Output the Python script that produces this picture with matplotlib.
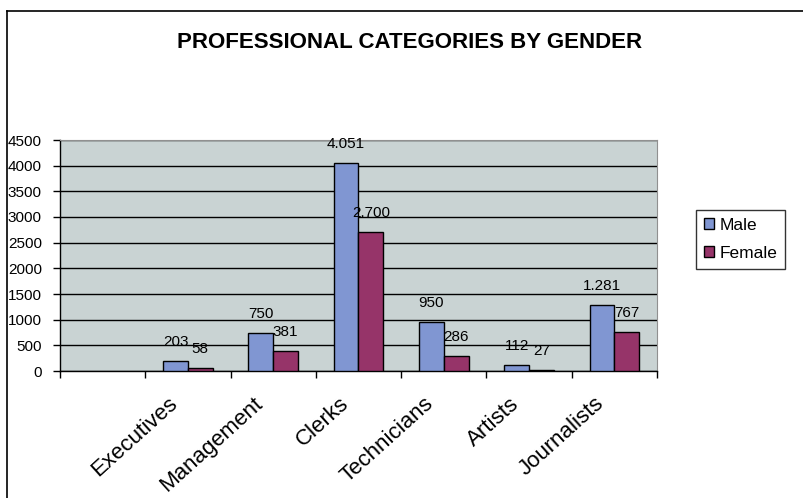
import numpy as np
import matplotlib
matplotlib.use('agg')
import matplotlib.pyplot as plt
import matplotlib.transforms as mtransforms
from matplotlib.lines import Line2D

plt.rcParams['font.family'] = ['Liberation Sans', 'DejaVu Sans']

categories = ['', 'Executives', 'Management', 'Clerks', 'Technicians', 'Artists', 'Journalists']
male = [np.nan, 203, 750, 4051, 950, 112, 1281]
female = [np.nan, 58, 381, 2700, 286, 27, 767]
male_labels = ['', '203', '750', '4.051', '950', '112', '1.281']
female_labels = ['', '58', '381', '2.700', '286', '27', '767']
yticks = [0, 500, 1000, 1500, 2000, 2500, 3000, 3500, 4000, 4500]

male_color = '#8096D2'
female_color = '#963469'

fig = plt.figure(figsize=(8.04, 4.98), dpi=100)
ax = fig.add_axes([60 / 804, 127 / 498, 597 / 804, 231 / 498])
ax.set_facecolor('#C9D3D3')

x = np.arange(len(categories))
w = 0.29
b1 = ax.bar(x - w / 2, male, w, color=male_color, edgecolor='black', linewidth=1, label='Male', zorder=3)
b2 = ax.bar(x + w / 2, female, w, color=female_color, edgecolor='black', linewidth=1, label='Female', zorder=3)

for xi, v, s in zip(x, male, male_labels):
    if s:
        ax.annotate(s, (xi - w / 2, v), xytext=(0, 12), textcoords='offset pixels',
                    ha='center', va='bottom', fontsize=11, zorder=4)
for xi, v, s in zip(x, female, female_labels):
    if s:
        ax.annotate(s, (xi + w / 2, v), xytext=(0, 12), textcoords='offset pixels',
                    ha='center', va='bottom', fontsize=11, zorder=4)

ax.set_xlim(-0.5, len(categories) - 0.5)
ax.set_ylim(0, 4500)
ax.set_yticks(yticks)
ax.set_yticklabels([str(t) for t in yticks], fontsize=11)
ax.yaxis.grid(True, color='black', linewidth=1, zorder=1)

ax.set_xticks(x)
ax.set_xticklabels(categories, fontsize=16, rotation=42, ha='right', rotation_mode='anchor')
ax.tick_params(axis='x', which='major', length=0, pad=16)
shift = mtransforms.ScaledTranslation(-20 / 100, 0, fig.dpi_scale_trans)
for lbl in ax.get_xticklabels():
    lbl.set_transform(lbl.get_transform() + shift)
ax.set_xticks(np.arange(len(categories) + 1) - 0.5, minor=True)
ax.tick_params(axis='x', which='minor', length=5, width=1, direction='out')
ax.tick_params(axis='y', length=5, width=1, direction='out', pad=8)

for side in ['top', 'right']:
    ax.spines[side].set_color('#909090')
for side in ['left', 'bottom']:
    ax.spines[side].set_color('black')
    ax.spines[side].set_linewidth(1)

fig.text(410 / 804, 1 - 43 / 498, 'PROFESSIONAL CATEGORIES BY GENDER',
         ha='center', va='center', fontsize=16, fontweight='bold')

leg = fig.legend(handles=[b1, b2], loc='upper left', bbox_to_anchor=(696 / 804, 1 - 210 / 498),
                 fontsize=12.5, frameon=True, fancybox=False, edgecolor='black',
                 handlelength=0.6, handleheight=0.6, handletextpad=0.3,
                 borderpad=0.45, labelspacing=0.75, borderaxespad=0)
leg.get_frame().set_linewidth(1)

# outer chart border (only left and top are inside the image)
fig.add_artist(Line2D([7.5 / 804, 7.5 / 804], [0, 1 - 11 / 498], transform=fig.transFigure,
                      color='black', linewidth=1.2))
fig.add_artist(Line2D([7.5 / 804, 1], [1 - 11 / 498, 1 - 11 / 498], transform=fig.transFigure,
                      color='black', linewidth=1.2))

fig.savefig('out.png', dpi=100)
